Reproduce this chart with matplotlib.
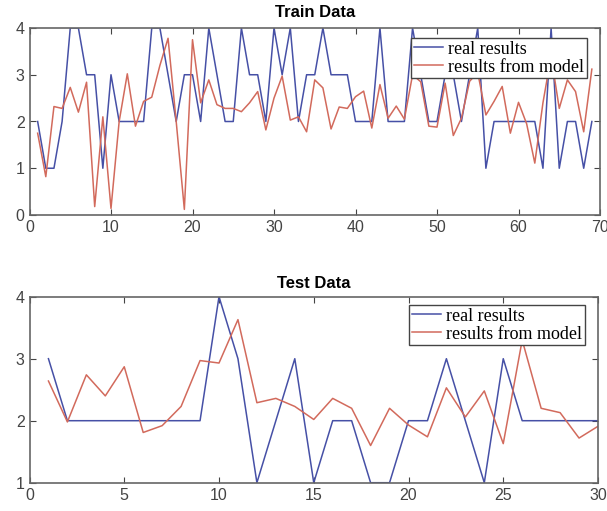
import matplotlib
matplotlib.use('Agg')
import matplotlib.pyplot as plt

# training set: real target vs model output
train_x = list(range(1, 70))
train_real = [2, 1, 1, 2, 4, 4, 3, 3, 1, 3,
              2, 2, 2, 2, 4, 4, 3, 2, 3, 3,
              2, 4, 3, 2, 2, 4, 3, 3, 2, 4,
              3, 4, 2, 3, 3, 4, 3, 3, 3, 2,
              2, 2, 4, 2, 2, 2, 4, 3, 2, 2,
              3, 3, 2, 3, 4, 1, 2, 2, 2, 2,
              2, 2, 1, 4, 1, 2, 2, 1, 2]
train_model = [1.75, 0.82, 2.32, 2.28, 2.73, 2.2, 2.84, 0.18, 2.1, 0.14,
               2.0, 3.02, 1.9, 2.43, 2.52, 3.2, 3.78, 2.0, 0.12, 3.75,
               2.4, 2.89, 2.36, 2.28, 2.28, 2.21, 2.4, 2.64, 1.82, 2.5,
               2.97, 2.03, 2.1, 1.78, 2.89, 2.72, 1.84, 2.31, 2.28, 2.53,
               2.65, 1.86, 2.79, 2.07, 2.33, 2.05, 3.0, 2.85, 1.9, 1.88,
               2.82, 1.7, 2.07, 2.86, 3.05, 2.14, 2.43, 2.75, 1.75, 2.41,
               1.95, 1.11, 2.4, 3.4, 2.28, 2.89, 2.64, 1.78, 3.12]

# test set
test_x = list(range(1, 31))
test_real = [3, 2, 2, 2, 2, 2, 2, 2, 2, 4,
             3, 1, 2, 3, 1, 2, 2, 1, 1, 2,
             2, 3, 2, 1, 3, 2, 2, 2, 2, 2]
test_model = [2.64, 1.98, 2.74, 2.4, 2.87, 1.81, 1.92, 2.23, 2.97, 2.93,
              3.63, 2.29, 2.36, 2.23, 2.02, 2.36, 2.2, 1.6, 2.2, 1.93,
              1.74, 2.53, 2.06, 2.48, 1.63, 3.3, 2.2, 2.13, 1.72, 1.91]

legend_labels = ['real results', 'results from model']
blue = '#4650a6'
red = '#d26a5c'

plt.rcParams['font.family'] = ['Liberation Sans', 'DejaVu Sans']

fig = plt.figure(figsize=(6.07, 5.11), dpi=100)
W, H = 607, 511


def make_axes(left, top, right, bottom):
    return fig.add_axes([left / W, 1 - bottom / H, (right - left) / W, (bottom - top) / H])


def style(ax):
    ax.tick_params(direction='in', top=True, right=True, labelsize=11.5,
                   colors='#444444', length=4)
    for s in ax.spines.values():
        s.set_color('#666666')
        s.set_linewidth(1.2)


def add_legend(ax, anchor):
    ax.legend(legend_labels, loc='upper right', bbox_to_anchor=anchor,
              prop={'family': 'Liberation Serif', 'size': 13}, fancybox=False,
              framealpha=1, edgecolor='#444444', borderpad=0.15,
              handlelength=1.6, handletextpad=0.3, labelspacing=0.05,
              borderaxespad=0)


ax1 = make_axes(29.5, 28, 600, 215)
ax1.plot(train_x, train_real, color=blue, lw=1.1)
ax1.plot(train_x, train_model, color=red, lw=1.1)
ax1.set_xlim(0, 70)
ax1.set_ylim(0, 4)
ax1.set_xticks(range(0, 71, 10))
ax1.set_yticks(range(0, 5))
ax1.set_title('Train Data', fontsize=12, fontweight='bold', pad=8)
style(ax1)
add_legend(ax1, ((587 - 29.5) / (600 - 29.5), (215 - 38) / (215 - 28)))

ax2 = make_axes(29.5, 296.7, 598, 482.7)
ax2.plot(test_x, test_real, color=blue, lw=1.1)
ax2.plot(test_x, test_model, color=red, lw=1.1)
ax2.set_xlim(0, 30)
ax2.set_ylim(1, 4)
ax2.set_xticks(range(0, 31, 5))
ax2.set_yticks(range(1, 5))
ax2.set_title('Test Data', fontsize=12, fontweight='bold', pad=6)
style(ax2)
add_legend(ax2, ((585 - 29.5) / (598 - 29.5), (482.7 - 305) / (482.7 - 296.7)))

fig.savefig('out.png', dpi=100)
